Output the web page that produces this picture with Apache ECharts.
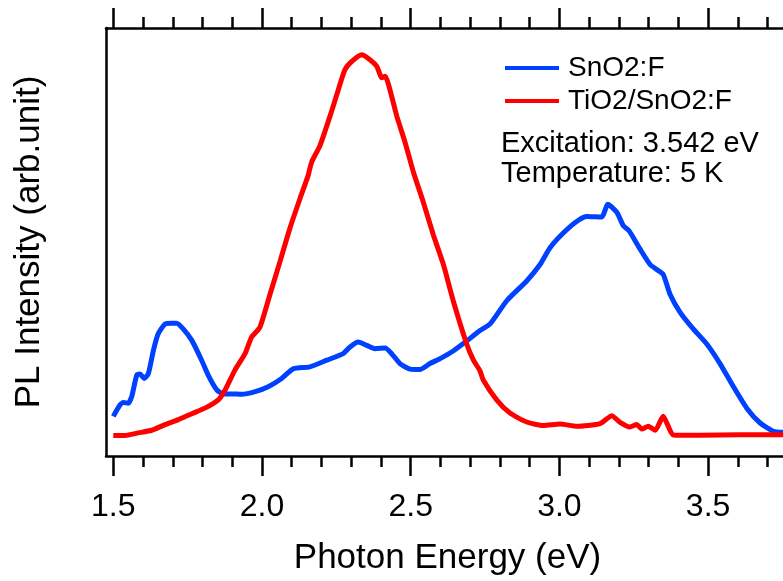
<!DOCTYPE html>
<html>
<head>
<meta charset="utf-8">
<script src="https://cdn.jsdelivr.net/npm/echarts@6/dist/echarts.min.js"></script>
<style>
html,body{margin:0;padding:0;background:#fff;}
#chart{width:783px;height:581px;}
</style>
</head>
<body>
<div id="chart"></div>
<script>
// ---- data ----
const sno2Energy = [1.500,1.523,1.534,1.550,1.562,1.579,1.590,1.604,1.618,1.635,1.651,1.674,1.696,1.713,1.735,1.764,1.797,1.819,1.848,1.870,1.898,1.932,1.977,2.021,2.066,2.105,2.161,2.218,2.273,2.296,2.324,2.352,2.380,2.414,2.436,2.464,2.498,2.531,2.565,2.599,2.643,2.688,2.733,2.767,2.823,2.890,2.935,2.968,3.013,3.058,3.092,3.142,3.163,3.193,3.215,3.234,3.271,3.305,3.327,3.349,3.372,3.406,3.450,3.495,3.540,3.585,3.630,3.675,3.719,3.752];
const sno2Intensity = [40,51.7,54,53.3,60,81.7,82.7,78.3,83.3,106.7,123.3,133.3,134,134,128.3,116.7,96.7,81.7,66.7,62.7,62.7,62.3,65,70,78.3,88,90,96.7,103.3,110,115,111.7,108.3,109,103.3,93.3,87.7,87.3,93.3,98.3,106,116,126.7,133.3,156.7,176.7,193.3,210,225,236.7,241.7,241.2,254,246,232.5,227.5,209,193.3,188.3,183.3,163.3,145,128.3,113.3,93.3,70,48.3,33.3,25,24];
const tio2Energy = [1.500,1.539,1.584,1.629,1.674,1.719,1.764,1.808,1.853,1.876,1.909,1.943,1.965,1.993,2.027,2.061,2.094,2.128,2.155,2.167,2.195,2.229,2.257,2.279,2.302,2.335,2.363,2.386,2.403,2.414,2.430,2.453,2.481,2.509,2.542,2.576,2.610,2.643,2.688,2.711,2.733,2.744,2.789,2.834,2.890,2.946,3.002,3.058,3.137,3.176,3.204,3.237,3.260,3.277,3.299,3.322,3.349,3.366,3.383,3.473,3.607,3.752];
const tio2Intensity = [20.7,20.7,23.3,26,31.7,36.7,42.7,48.3,56.7,66.7,86.7,103.3,120,130,163.3,196.7,230,260,283,296.7,313.3,343.3,370,390,398.3,405,400,393.3,381.7,383.3,370,343.3,316.7,286.7,256.7,223.3,193.3,156.7,113.3,96.7,86,76.7,56.7,43.3,34.3,30.7,32.3,30,32.7,40.7,34,29.3,31.7,27.3,30,26,40,30,21.3,21,21.5,21.5];
const seriesNames = ['SnO2:F', 'TiO2/SnO2:F'];
const majorTicks = [1.5, 2.0, 2.5, 3.0, 3.5];
const minorTicks = [1.6,1.7,1.8,1.9,2.1,2.2,2.3,2.4,2.6,2.7,2.8,2.9,3.1,3.2,3.3,3.4,3.6,3.7];
const annotationLines = ['Excitation: 3.542 eV', 'Temperature: 5 K'];
const xTitle = 'Photon Energy (eV)';
const yTitle = 'PL Intensity (arb.unit)';
const xRange = [1.4755, 3.7519];
const yRange = [0, 432];

const FONT = '"Liberation Sans", Arial, Helvetica, sans-serif';
const pairs = (xs, ys) => xs.map((x, i) => [x, ys[i]]);

const chart = echarts.init(document.getElementById('chart'), null, {renderer: 'canvas'});

function xAxisCfg(position, ticks, len, showLine, showLabel, name) {
  return {
    type: 'value', position: position, min: xRange[0], max: xRange[1],
    axisLine: {show: showLine, onZero: false, lineStyle: {color: '#000', width: 2.5}},
    axisTick: {show: true, inside: false, length: len, customValues: ticks,
               lineStyle: {color: '#000', width: 2.5}},
    axisLabel: {show: showLabel, customValues: ticks, margin: 35,
                formatter: v => v.toFixed(1),
                color: '#000', fontSize: 32, fontFamily: FONT},
    splitLine: {show: false},
    name: name || '', nameLocation: 'middle', nameGap: 85,
    nameTextStyle: {color: '#000', fontSize: 35, fontFamily: FONT, padding: [0, 0, 0, 6]}
  };
}

chart.setOption({
  animation: false,
  backgroundColor: '#fff',
  grid: {left: 106, right: 0, top: 28, bottom: 121, containLabel: false},
  legend: {
    orient: 'vertical', left: 500, top: 49, itemGap: 5,
    itemWidth: 54, itemHeight: 4, icon: 'rect',
    data: seriesNames,
    textStyle: {color: '#000', fontSize: 28, fontFamily: FONT, padding: [0, 0, 0, 4]}
  },
  xAxis: [
    xAxisCfg('bottom', majorTicks, 20, true, true, xTitle),
    xAxisCfg('bottom', minorTicks, 11, false, false),
    xAxisCfg('top', majorTicks, 20, true, false),
    xAxisCfg('top', minorTicks, 11, false, false)
  ],
  yAxis: {
    type: 'value', min: yRange[0], max: yRange[1],
    axisLine: {show: true, lineStyle: {color: '#000', width: 2.5}},
    axisTick: {show: false}, axisLabel: {show: false}, splitLine: {show: false},
    name: yTitle, nameLocation: 'middle', nameGap: 59, nameRotate: 90,
    nameTextStyle: {color: '#000', fontSize: 35, fontFamily: FONT}
  },
  graphic: annotationLines.map((t, i) => ({
    type: 'text', left: 501, top: 129 + i * 30,
    style: {text: t, fill: '#000', font: '29px ' + FONT}
  })),
  series: [
    {name: seriesNames[0], type: 'line', xAxisIndex: 0, data: pairs(sno2Energy, sno2Intensity),
     showSymbol: false, smooth: 0.2, lineStyle: {color: '#0040ff', width: 5},
     itemStyle: {color: '#0040ff'}, z: 2},
    {name: seriesNames[1], type: 'line', xAxisIndex: 0, data: pairs(tio2Energy, tio2Intensity),
     showSymbol: false, smooth: 0.2, lineStyle: {color: '#ff0000', width: 5},
     itemStyle: {color: '#ff0000'}, z: 3}
  ]
});
</script>
</body>
</html>
